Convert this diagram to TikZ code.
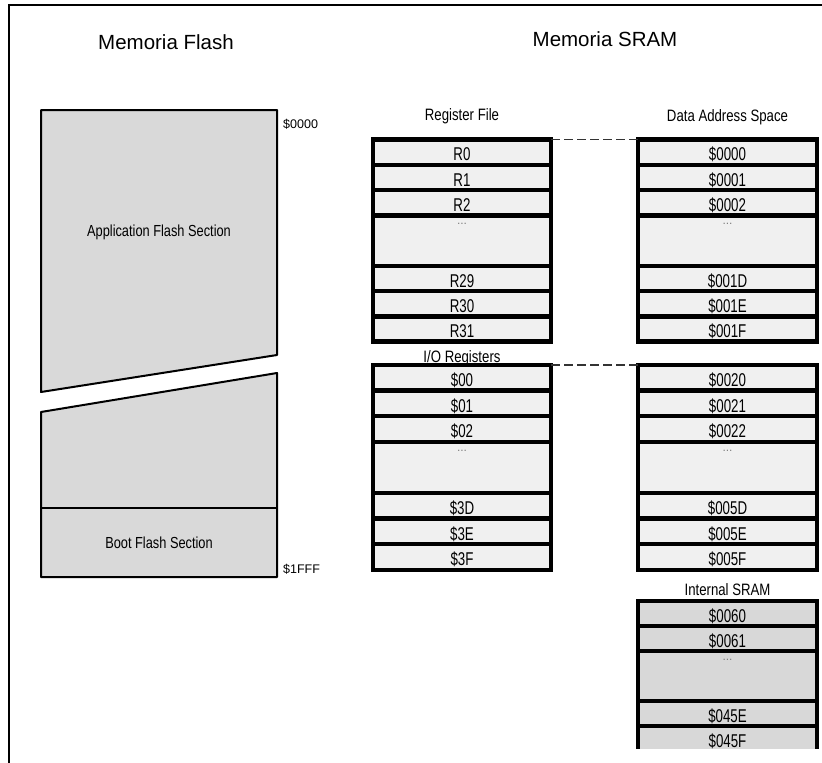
\documentclass[tikz,border=0pt]{standalone}
\usepackage{fontspec}
\setmainfont{Liberation Sans}
\newfontfamily\rowfont[FakeStretch=0.72]{Liberation Sans}
\newfontfamily\hdrfont[FakeStretch=0.8]{Liberation Sans}
\usetikzlibrary{positioning}
\definecolor{regfill}{HTML}{F0F0F0}
\definecolor{sramfill}{HTML}{D8D8D8}
\definecolor{flashfill}{HTML}{D9D9D9}
\newcommand\gapdots{...}

\begin{document}
\begin{tikzpicture}[x=1pt,y=-1pt,
  memrow/.style={draw,line width=4.5pt,fill=regfill,minimum width=178,inner sep=0pt,outer sep=0pt,
    font=\rowfont\fontsize{18.5}{18.5}\selectfont,text height=17.5pt,text depth=0pt},
  gaprow/.style={memrow,text height=0pt,text depth=32pt,text=gray,font=\fontsize{12}{12}\selectfont},
  hdr/.style={font=\hdrfont\fontsize{16.5}{16.5}\selectfont,inner sep=0pt,anchor=base},
  title/.style={font=\fontsize{20.5}{20.5}\selectfont,inner sep=0pt,anchor=base},
  addr/.style={font=\fontsize{12.5}{12.5}\selectfont,inner sep=0pt,anchor=base west},
  flashtxt/.style={font=\hdrfont\fontsize{16}{16}\selectfont,inner sep=0pt,anchor=base},
  linkdash/.style={line width=1.5pt,draw=black!80,dash pattern=on 9pt off 4pt}]
  \useasboundingbox (0,0) rectangle (822,763);
  % frame
  \draw[line width=2pt] (9,763) -- (9,5) -- (822,5);
  \node[title] (flashtitle) at (166,49) {Memoria Flash};
  \node[title] (sramtitle) at (605,46) {Memoria SRAM};

  % flash memory
  \filldraw[fill=flashfill,line width=2pt,line join=round] (41,110) -- (277,110) -- (277,355) -- (41,392) -- cycle;
  \filldraw[fill=flashfill,line width=2pt,line join=round] (41,412) -- (277,373) -- (277,577) -- (41,577) -- cycle;
  \draw[line width=2pt] (41,508) -- (277,508);
  \node[flashtxt] (appsec) at (159,236) {Application Flash Section};
  \node[flashtxt] (bootsec) at (159,548) {Boot Flash Section};
  \node[addr] (flashtop) at (283,128) {\$0000};
  \node[addr] (flashend) at (283,573) {\$1FFF};

  % register file
  \foreach \n/\lab/\k/\h in {0/R0/0/1,1/R1/1/1,2/R2/2/1,3/\gapdots/3/2,4/R29/5/1,5/R30/6/1,6/R31/7/1}
  {
    \ifnum\h>1 \def\rowsty{gaprow}\else\def\rowsty{memrow}\fi
    \node[\rowsty,minimum height=\h*25.25] (rf\n) at (462,139.5+\k*25.25+\h*12.625) {\lab};
  }
  % I/O registers
  \foreach \n/\lab/\k/\h in {0/\$00/0/1,1/\$01/1/1,2/\$02/2/1,3/\gapdots/3/2,4/\$3D/5/1,5/\$3E/6/1,6/\$3F/7/1}
  {
    \ifnum\h>1 \def\rowsty{gaprow}\else\def\rowsty{memrow}\fi
    \node[\rowsty,minimum height=\h*25.6] (io\n) at (462,365+\k*25.6+\h*12.8) {\lab};
  }
  % data address space
  \foreach \n/\lab/\k/\h in {0/\$0000/0/1,1/\$0001/1/1,2/\$0002/2/1,3/\gapdots/3/2,4/\$001D/5/1,5/\$001E/6/1,6/\$001F/7/1}
  {
    \ifnum\h>1 \def\rowsty{gaprow}\else\def\rowsty{memrow}\fi
    \node[\rowsty,minimum height=\h*25.25,minimum width=179] (da\n) at (727.5,139.5+\k*25.25+\h*12.625) {\lab};
  }
  \foreach \n/\lab/\k/\h in {0/\$0020/0/1,1/\$0021/1/1,2/\$0022/2/1,3/\gapdots/3/2,4/\$005D/5/1,5/\$005E/6/1,6/\$005F/7/1}
  {
    \ifnum\h>1 \def\rowsty{gaprow}\else\def\rowsty{memrow}\fi
    \node[\rowsty,minimum height=\h*25.6,minimum width=179] (db\n) at (727.5,365+\k*25.6+\h*12.8) {\lab};
  }
  % internal SRAM, cut at the page edge
  \begin{scope}
    \clip (600,590) rectangle (822,748);
    \foreach \n/\lab/\k/\h in {0/\$0060/0/1,1/\$0061/1/1,2/\gapdots/2/2,3/\$045E/4/1,4/\$045F/5/1}
    {
      \ifnum\h>1 \def\rowsty{gaprow}\else\def\rowsty{memrow}\fi
      \node[\rowsty,fill=sramfill,minimum height=\h*25,minimum width=179] (is\n) at (727.5,601+\k*25+\h*12.5) {\lab};
    }
  \end{scope}

  % headers
  \node[hdr,above=19.5pt of rf0.north,anchor=base] (rfhdr) {Register File};
  \node[hdr,above=3pt of io0.north,anchor=base] (iohdr) {I/O Registers};
  \node[hdr,above=18.5pt of da0.north,anchor=base] (dahdr) {Data Address Space};
  \node[hdr,above=6pt of is0.north,anchor=base] (ishdr) {Internal SRAM};

  % mapping of register file onto data space
  \draw[linkdash] (rf0.north east) -- (da0.north west);
  \draw[linkdash] (io0.north east) -- (db0.north west);
\end{tikzpicture}
\end{document}
